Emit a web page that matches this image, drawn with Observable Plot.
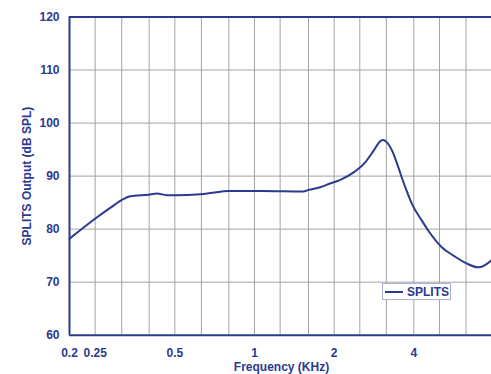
<!DOCTYPE html>
<html><head><meta charset="utf-8">
<script src="https://cdn.jsdelivr.net/npm/d3@7"></script>
<script src="https://cdn.jsdelivr.net/npm/@observablehq/plot@0.6"></script>
<style>
html,body{margin:0;padding:0;overflow:hidden;background:#fff;}
#wrap{position:relative;width:491px;height:374px;overflow:hidden;}
#legend{position:absolute;left:382px;top:283px;width:67px;height:15px;border:1px solid #a9b1d6;background:#fff;
  font:bold 12px "Liberation Sans",Arial,sans-serif;color:#2b3990;display:flex;align-items:center;}
#legend svg{margin-left:2px;margin-right:4px;}
</style></head><body><div id="wrap"></div>
<script>
const freqKHz  = [0.2, 0.252, 0.285, 0.318, 0.339, 0.398, 0.428, 0.467, 0.506, 0.624, 0.68, 0.798, 1.07, 1.53, 1.6, 1.77, 1.93, 2.11, 2.37, 2.62, 2.82, 2.99, 3.06, 3.16, 3.31, 3.46, 3.61, 3.74, 3.93, 4.29, 4.54, 5.1, 5.65, 6.35, 7.02, 7.84, 8.0];
const splitsDb = [78.2, 82.1, 84.0, 85.6, 86.2, 86.5, 86.7, 86.4, 86.4, 86.6, 86.8, 87.2, 87.2, 87.1, 87.4, 87.9, 88.6, 89.3, 90.7, 92.6, 94.8, 96.6, 96.8, 96.4, 94.8, 92.3, 89.6, 87.5, 84.8, 81.6, 79.7, 76.6, 75.0, 73.5, 72.8, 74.1, 74.5];
const gridFreqs = [0.25, 0.315, 0.4, 0.5, 0.63, 0.8, 1, 1.25, 1.6, 2, 2.5, 3.15, 4, 5, 6.3];
const labelFreqs = [0.2, 0.25, 0.5, 1, 2, 4, 8];
const yTicks = [60, 70, 80, 90, 100, 110, 120];
const yGrid = [70, 80, 90, 100, 110];

const blue = "#2b3990";
const data = freqKHz.map((f, i) => ({f, db: splitsDb[i]}));

const chart = Plot.plot({
  width: 496, height: 374,
  marginLeft: 69, marginRight: 3, marginTop: 16.5, marginBottom: 39.3,
  style: {maxWidth: "none", color: blue, fontFamily: '"Liberation Sans", Arial, sans-serif', fontSize: "12px", fontWeight: "bold", background: "#fff", overflow: "visible"},
  x: {type: "log", domain: [0.2, 8], ticks: labelFreqs, tickFormat: d => String(d), tickSize: 0, tickPadding: 13, label: null},
  y: {domain: [60, 120], ticks: yTicks, tickSize: 0, tickPadding: 10, label: null},
  marks: [
    Plot.ruleX(gridFreqs, {stroke: "#a3a3a3", strokeWidth: 1}),
    Plot.ruleY(yGrid, {stroke: "#a3a3a3", strokeWidth: 1}),
    Plot.ruleY([120], {stroke: blue, strokeWidth: 2}),
    Plot.ruleY([60], {stroke: blue, strokeWidth: 2}),
    Plot.ruleX([0.2], {stroke: blue, strokeWidth: 2}),
    Plot.line(data, {x: "f", y: "db", curve: "monotone-x", stroke: blue, strokeWidth: 2}),
    Plot.text(["Frequency (KHz)"], {frameAnchor: "bottom", dy: 32, lineAnchor: "middle", textAnchor: "middle", text: d => d, fill: blue, fontWeight: "bold", fontSize: 12}),
    Plot.text(["SPLITS Output (dB SPL)"], {frameAnchor: "left", dx: -42, rotate: -90, lineAnchor: "middle", textAnchor: "middle", text: d => d, fill: blue, fontWeight: "bold", fontSize: 12})
  ]
});
const wrap = document.getElementById("wrap");
wrap.appendChild(chart);
const legend = document.createElement("div");
legend.id = "legend";
legend.innerHTML = '<svg width="18" height="4"><line x1="0" x2="18" y1="2" y2="2" stroke="' + blue + '" stroke-width="2"/></svg><span>SPLITS</span>';
wrap.appendChild(legend);
</script></body></html>
